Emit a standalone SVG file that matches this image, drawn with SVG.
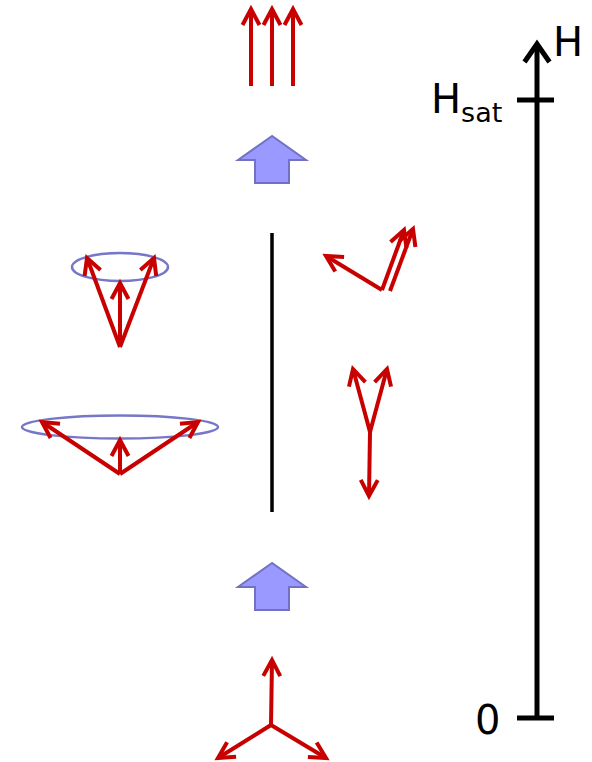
<svg xmlns="http://www.w3.org/2000/svg" width="592" height="762" viewBox="0 0 592 762">
<style>
.spin{fill:none;stroke:#c80000;stroke-width:4;marker-end:url(#head)}
.field{fill:#9999ff;stroke:#7272c4;stroke-width:2}
.cone{fill:none;stroke:#7777c8;stroke-width:2.5}
.axis{stroke:#000;stroke-width:5;fill:none}
.lbl{font-family:"DejaVu Sans",sans-serif;font-size:40px;fill:#000}
</style>
<defs>
<marker id="head" markerUnits="userSpaceOnUse" orient="auto" refX="0" refY="0" markerWidth="40" markerHeight="40" overflow="visible">
<path d="M-16,-8.5 L0,0 L-16,8.5" fill="none" stroke="#c80000" stroke-width="4"/>
</marker>
</defs>
<rect width="592" height="762" fill="#fff"/>
<g id="saturated">
<line class="spin" x1="251" y1="86" x2="251" y2="9"/>
<line class="spin" x1="272" y1="86" x2="272" y2="9"/>
<line class="spin" x1="293" y1="86" x2="293" y2="9"/>
</g>
<g id="field-arrow-top">
<path class="field" d="M272,136 L238,160 L255,160 L255,183 L289,183 L289,160 L306,160 Z"/>
</g>
<g id="field-arrow-bottom">
<path class="field" d="M272,563 L238,587 L255,587 L255,610 L289,610 L289,587 L306,587 Z"/>
</g>
<g id="divider">
<line x1="272" y1="233" x2="272" y2="512" stroke="#000" stroke-width="3.5"/>
</g>
<g id="umbrella-upper">
<ellipse class="cone" cx="120" cy="267" rx="48" ry="14"/>
<line class="spin" x1="120" y1="347" x2="87" y2="258"/>
<line class="spin" x1="120" y1="347" x2="120" y2="283"/>
<line class="spin" x1="120" y1="347" x2="154" y2="258"/>
</g>
<g id="umbrella-lower">
<ellipse class="cone" cx="120" cy="427" rx="98" ry="11.5"/>
<line class="spin" x1="120" y1="474" x2="42" y2="422"/>
<line class="spin" x1="120" y1="474" x2="120" y2="440"/>
<line class="spin" x1="120" y1="474" x2="198" y2="422"/>
</g>
<g id="canted-upper">
<line class="spin" x1="382" y1="290" x2="326" y2="256"/>
<line class="spin" x1="382" y1="290" x2="404" y2="230"/>
<line class="spin" x1="390" y1="291" x2="413" y2="229"/>
</g>
<g id="y-state">
<line class="spin" x1="370" y1="432" x2="353" y2="369"/>
<line class="spin" x1="370" y1="432" x2="387" y2="369"/>
<line class="spin" x1="370" y1="432" x2="369" y2="496"/>
</g>
<g id="triangular">
<line class="spin" x1="271" y1="725" x2="272" y2="660"/>
<line class="spin" x1="271" y1="725" x2="218" y2="758"/>
<line class="spin" x1="271" y1="725" x2="326" y2="758"/>
</g>
<g id="axis">
<line class="axis" x1="537" y1="718" x2="537" y2="46"/>
<path class="axis" d="M524.5,62 L537,44 L549.5,62" stroke-linejoin="miter"/>
<line class="axis" x1="517" y1="100" x2="554" y2="100"/>
<line class="axis" x1="517" y1="718" x2="554" y2="718"/>
<text class="lbl" x="553" y="56">H</text>
<text class="lbl" x="431" y="113">H<tspan font-size="27" dy="9">sat</tspan></text>
<text class="lbl" x="475" y="734">0</text>
</g>
</svg>
